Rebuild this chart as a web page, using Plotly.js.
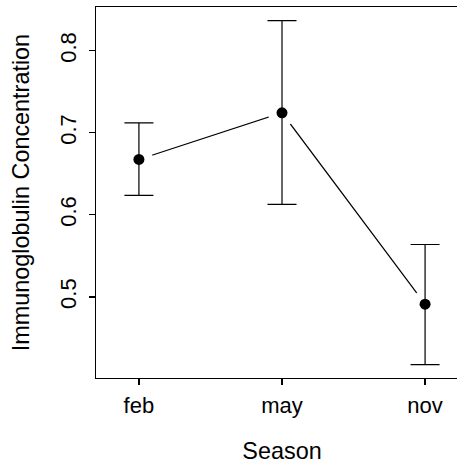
<!DOCTYPE html>
<html>
<head>
<meta charset="utf-8">
<script src="https://cdn.plot.ly/plotly-3.0.1.min.js"></script>
<style>
html,body{margin:0;padding:0;overflow:hidden;background:#fff;}
#chart{width:480px;height:464px;}
</style>
</head>
<body>
<div id="chart"></div>
<script>
const seasons = ["feb", "may", "nov"];
const meanConc = [0.6675, 0.7244, 0.4911];
const upperConc = [0.7122, 0.8366, 0.5639];
const lowerConc = [0.6237, 0.6127, 0.4176];
const yTicks = [0.5, 0.6, 0.7, 0.8];

const errPlus = meanConc.map((m, i) => upperConc[i] - m);
const errMinus = meanConc.map((m, i) => m - lowerConc[i]);

const font = {family: "Liberation Sans, Arial, sans-serif", size: 22, color: "#000"};
const titleFont = {family: "Liberation Sans, Arial, sans-serif", size: 23.4, color: "#000"};

const traces = [
  {x: seasons, y: meanConc, type: "scatter", mode: "lines",
   line: {color: "#000", width: 1.2}, hoverinfo: "skip", showlegend: false},
  {x: seasons, y: meanConc, type: "scatter", mode: "markers",
   marker: {color: "#fff", size: 28, line: {width: 0}}, hoverinfo: "skip", showlegend: false},
  {x: seasons, y: meanConc, type: "scatter", mode: "markers",
   marker: {color: "#000", size: 11, line: {width: 0}},
   error_y: {type: "data", symmetric: false, array: errPlus, arrayminus: errMinus,
             color: "#000", thickness: 1.2, width: 14.5},
   showlegend: false}
];

const layout = {
  width: 480, height: 464,
  margin: {l: 96, r: 12, t: 7, b: 86, pad: 0},
  paper_bgcolor: "#fff", plot_bgcolor: "#fff",
  font: font,
  showlegend: false,
  xaxis: {
    type: "category", range: [-0.3, 2.3],
    showline: true, mirror: true, linecolor: "#000", linewidth: 1.2,
    showgrid: false, zeroline: false,
    ticks: "outside", ticklen: 6, tickcolor: "#000", tickwidth: 1.2,
    ticklabelstandoff: 1,
    tickfont: font,
    title: {text: "Season", font: titleFont, standoff: 27},
    automargin: false
  },
  yaxis: {
    range: [0.4012, 0.8533],
    tickvals: yTicks, ticktext: yTicks.map(v => v.toFixed(1)),
    tickangle: -90,
    showline: true, mirror: true, linecolor: "#000", linewidth: 1.2,
    showgrid: false, zeroline: false,
    ticks: "outside", ticklen: 6, tickcolor: "#000", tickwidth: 1.2,
    ticklabelstandoff: 4,
    tickfont: font,
    title: {text: "Immunoglobulin Concentration", font: titleFont, standoff: 19},
    automargin: false
  }
};

Plotly.newPlot("chart", traces, layout, {displayModeBar: false, staticPlot: true});
</script>
</body>
</html>
